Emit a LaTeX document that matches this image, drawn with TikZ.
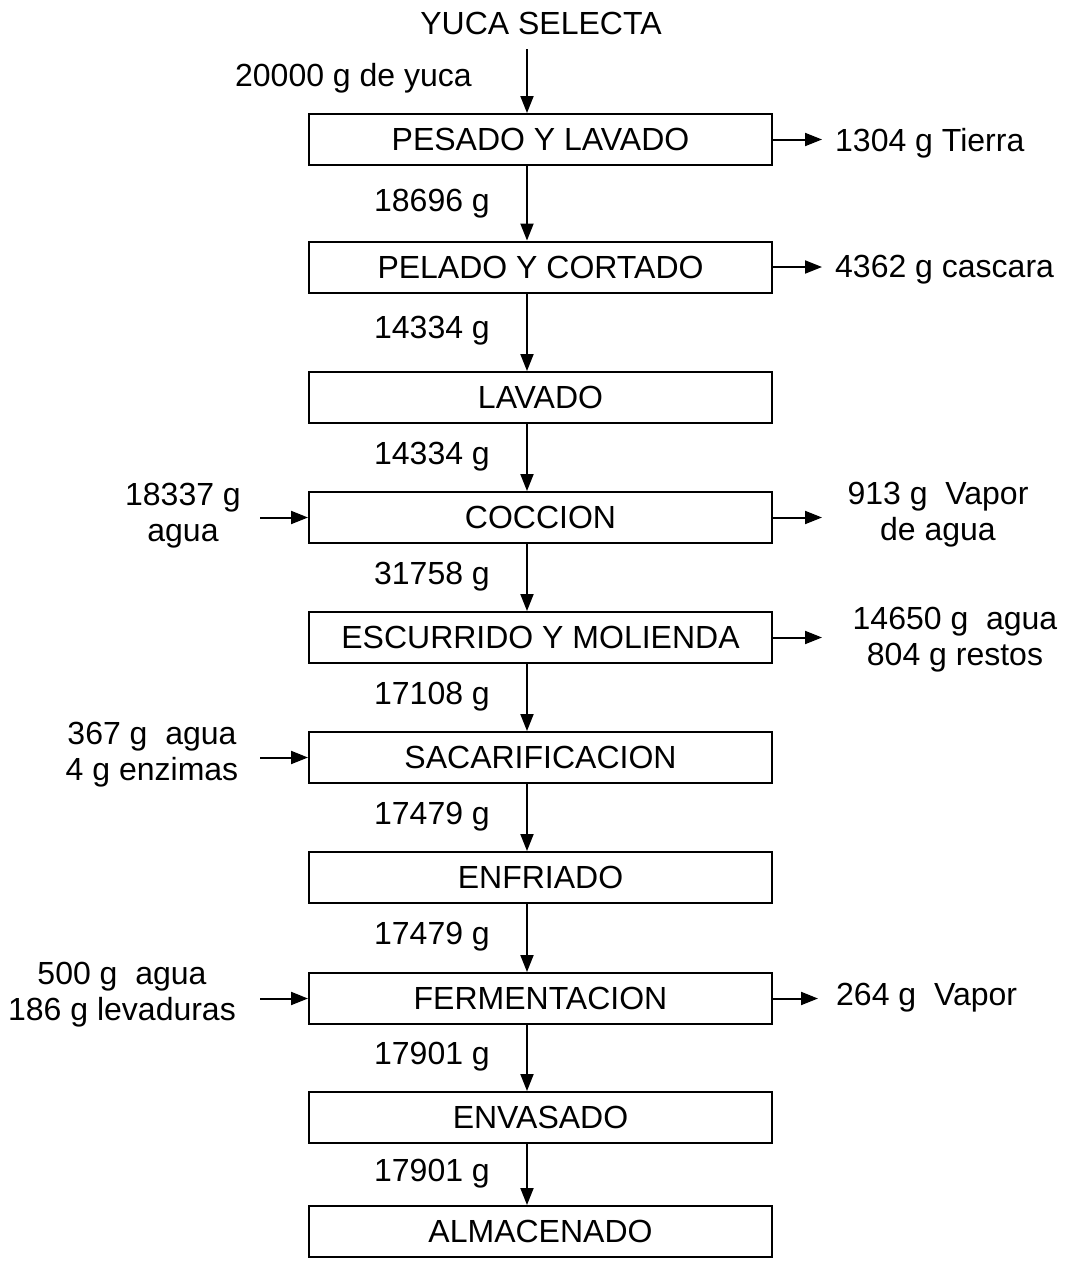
\documentclass[tikz,border=0pt]{standalone}
\usepackage{fontspec}
\setmainfont{Liberation Sans}
\usetikzlibrary{arrows.meta}
\newcommand\fsz{\fontsize{32}{36}\selectfont}
\begin{document}
\begin{tikzpicture}[x=1pt,y=-1pt,
  box/.style={draw,line width=2pt,minimum width=463pt,minimum height=51pt,inner sep=0pt,font=\fsz},
  lbl/.style={font=\fsz,inner sep=0pt,align=center},
  arr/.style={line width=2pt,-{Triangle[length=17pt,width=13pt]}}]
\fill[white] (0,0) rectangle (1074,1262);
\useasboundingbox (0,0) rectangle (1074,1262);
\coordinate (fx) at (527,0);
% title and input
\node[lbl] (top) at (541,23) {YUCA SELECTA};
\coordinate (s0) at (527,49);
\node[lbl,anchor=east] (in0) at (472,78) {20000 g de yuca};
% boxes
\node[box] (b1) at (540.5,139.5) {PESADO Y LAVADO};
\node[box] (b2) at (540.5,267) {PELADO Y CORTADO};
\node[box] (b3) at (540.5,397.5) {LAVADO};
\node[box] (b4) at (540.5,517.5) {COCCION};
\node[box] (b5) at (540.5,637.5) {ESCURRIDO Y MOLIENDA};
\node[box] (b6) at (540.5,757.5) {SACARIFICACION};
\node[box] (b7) at (540.5,877.5) {ENFRIADO};
\node[box] (b8) at (540.5,998.5) {FERMENTACION};
\node[box] (b9) at (540.5,1117.5) {ENVASADO};
\node[box] (b10) at (540.5,1231.5) {ALMACENADO};
% vertical arrows
\draw[arr] (s0) -- (b1.north -| fx);
\draw[arr] (b1.south -| fx) -- (b2.north -| fx);
\draw[arr] (b2.south -| fx) -- (b3.north -| fx);
\draw[arr] (b3.south -| fx) -- (b4.north -| fx);
\draw[arr] (b4.south -| fx) -- (b5.north -| fx);
\draw[arr] (b5.south -| fx) -- (b6.north -| fx);
\draw[arr] (b6.south -| fx) -- (b7.north -| fx);
\draw[arr] (b7.south -| fx) -- (b8.north -| fx);
\draw[arr] (b8.south -| fx) -- (b9.north -| fx);
\draw[arr] (b9.south -| fx) -- (b10.north -| fx);
% flow labels
\node[lbl,anchor=east] (f1) at (490,204) {18696 g};
\node[lbl,anchor=east] (f2) at (490,331) {14334 g};
\node[lbl,anchor=east] (f3) at (490,457) {14334 g};
\node[lbl,anchor=east] (f4) at (490,577) {31758 g};
\node[lbl,anchor=east] (f5) at (490,697) {17108 g};
\node[lbl,anchor=east] (f6) at (490,817) {17479 g};
\node[lbl,anchor=east] (f7) at (490,937) {17479 g};
\node[lbl,anchor=east] (f8) at (490,1057) {17901 g};
\node[lbl,anchor=east] (f9) at (490,1174) {17901 g};
% outputs (right)
\coordinate (o1) at (822,139.5);
\coordinate (o2) at (822,267);
\coordinate (o4) at (822,517.5);
\coordinate (o5) at (822,637.5);
\coordinate (o8) at (818,998.5);
\draw[arr] (b1.east) -- (o1);
\draw[arr] (b2.east) -- (o2);
\draw[arr] (b4.east) -- (o4);
\draw[arr] (b5.east) -- (o5);
\draw[arr] (b8.east) -- (o8);
\node[lbl,anchor=west] (t1) at (835,143) {1304 g Tierra};
\node[lbl,anchor=west] (t2) at (835,270) {4362 g cascara};
\node[lbl] (t4) at (938,515) {913 g\ \ Vapor\\de agua};
\node[lbl] (t5) at (955,640) {14650 g\ \ agua\\804 g restos};
\node[lbl,anchor=west] (t8) at (836,998) {264 g\ \ Vapor};
% inputs (left)
\coordinate (i4) at (260,517.5);
\coordinate (i6) at (260,757.5);
\coordinate (i8) at (260,998.5);
\draw[arr] (i4) -- (b4.west);
\draw[arr] (i6) -- (b6.west);
\draw[arr] (i8) -- (b8.west);
\node[lbl] (l4) at (183,516) {18337 g\\agua};
\node[lbl] (l6) at (152,755) {367 g\ \ agua\\4 g enzimas};
\node[lbl] (l8) at (122,995) {500 g\ \ agua\\186 g levaduras};
\end{tikzpicture}
\end{document}
